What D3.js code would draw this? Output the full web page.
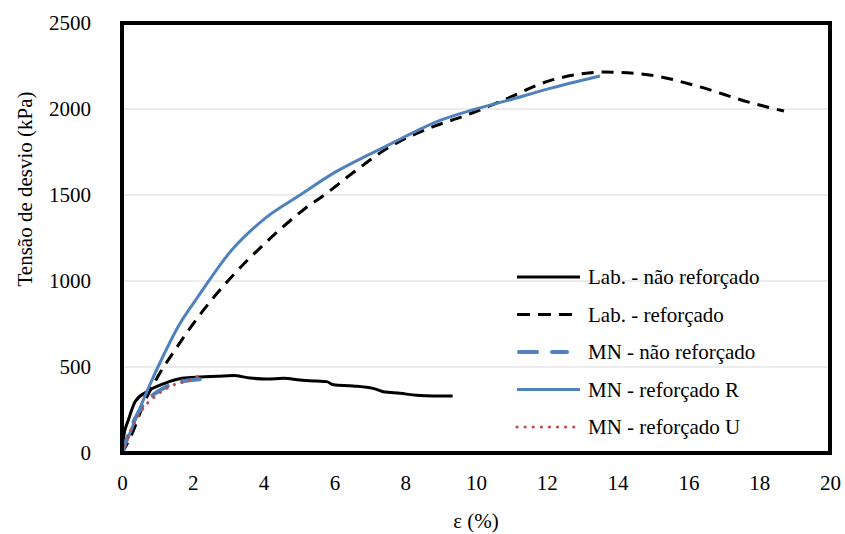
<!DOCTYPE html>
<html>
<head>
<meta charset="utf-8">
<script src="https://cdn.jsdelivr.net/npm/d3@7"></script>
<style>
  html, body { margin: 0; padding: 0; background: #fff; }
  svg { display: block; }
  svg text { font-family: 'Liberation Serif', serif !important; }
</style>
</head>
<body>
<svg id="chart" width="845" height="534"></svg>
<script>
// Strain (%) vs deviator stress (kPa) for each test series
const labUnreinforced = [
  [0, 0], [0.05, 100], [0.18, 192], [0.37, 298], [0.7, 356], [1.21, 405], [1.69, 434],
  [2.2, 442], [2.7, 446], [3.14, 450], [3.62, 436], [4.09, 430], [4.56, 434], [5.03, 424],
  [5.5, 418], [5.78, 415], [5.97, 397], [6.53, 390], [7.19, 370], [7.38, 356], [7.85, 347],
  [8.32, 336], [8.79, 332], [9.34, 332]
];
const labReinforced = [
  [0, 0], [0.3, 120], [0.6, 280], [1.0, 440], [1.5, 600], [2.16, 793], [3.1, 1025],
  [4.04, 1219], [5.12, 1413], [5.78, 1510], [6.44, 1616], [7.57, 1781], [8.79, 1897],
  [9.74, 1965], [10.68, 2043], [12.09, 2165], [13.0, 2205], [13.6, 2215], [14.9, 2198],
  [16.3, 2130], [17.7, 2040], [18.7, 1988]
];
const mnUnreinforced = [
  [0, 0], [0.1, 60], [0.3, 170], [0.6, 280], [1.0, 355], [1.5, 405], [2.0, 425], [2.25, 430]
];
const mnReinforcedR = [
  [0, 0], [0.35, 180], [0.7, 356], [1.2, 580], [1.6, 740], [2.15, 910], [3.1, 1180],
  [4.05, 1366], [5.03, 1500], [6.0, 1630], [6.86, 1723], [7.38, 1775], [8.0, 1840],
  [9.0, 1935], [9.74, 1985], [10.9, 2050], [12.09, 2120], [13.5, 2192]
];
const mnReinforcedU = [
  [0, 0], [0.08, 47], [0.32, 163], [0.6, 260], [0.98, 337], [1.45, 395], [1.97, 428], [2.2, 453]
];

const xTicks = [0, 2, 4, 6, 8, 10, 12, 14, 16, 18, 20];
const yTicks = [0, 500, 1000, 1500, 2000, 2500];

const seriesNames = [
  "Lab. - não reforçado",
  "Lab. - reforçado",
  "MN - não reforçado",
  "MN - reforçado R",
  "MN - reforçado U"
];

const styles = [
  { color: "#000000", width: 3, dash: null, cap: "butt" },
  { color: "#000000", width: 3, dash: "12,8", cap: "butt" },
  { color: "#4F81BD", width: 4, dash: "18,15", cap: "round" },
  { color: "#4F81BD", width: 3, dash: null, cap: "butt" },
  { color: "#C0504D", width: 3.2, dash: "0.1,8", cap: "round" }
];
const seriesData = [labUnreinforced, labReinforced, mnUnreinforced, mnReinforcedR, mnReinforcedU];

const FONT = "'Liberation Serif'";
// apply the serif face to a text selection
function serif(sel) {
  sel.attr("font-family", "Liberation Serif")
    .style("font-family", FONT, "important")
    .style("font-size", "21px")
    .attr("fill", "#000");
}

const svg = d3.select("#chart");
const plotLeft = 122, plotRight = 830, plotTop = 23, plotBottom = 453;

const x = d3.scaleLinear().domain([0, 20]).range([plotLeft, plotRight]);
const y = d3.scaleLinear().domain([0, 2500]).range([plotBottom, plotTop]);

// horizontal gridlines
svg.append("g")
  .selectAll("line")
  .data(yTicks.filter(t => t > 0 && t < 2500))
  .join("line")
  .attr("x1", plotLeft).attr("x2", plotRight)
  .attr("y1", d => y(d)).attr("y2", d => y(d))
  .attr("stroke", "#d9d9d9").attr("stroke-width", 1.2);

// axes (labels only, the frame is drawn separately)
const xAxis = svg.append("g")
  .attr("transform", `translate(0,${plotBottom})`)
  .call(d3.axisBottom(x).tickValues(xTicks).tickSize(0).tickPadding(22).tickFormat(d3.format("d")));
xAxis.attr("font-family", "Liberation Serif").attr("font-size", null);
xAxis.select(".domain").remove();
xAxis.selectAll("text").call(serif);

const yAxis = svg.append("g")
  .attr("transform", `translate(${plotLeft},0)`)
  .call(d3.axisLeft(y).tickValues(yTicks).tickSize(0).tickPadding(31).tickFormat(d3.format("d")));
yAxis.attr("font-family", "Liberation Serif").attr("font-size", null);
yAxis.select(".domain").remove();
yAxis.selectAll("text").call(serif);

// series curves
const line = d3.line().x(d => x(d[0])).y(d => y(d[1])).curve(d3.curveMonotoneX);
const drawOrder = [0, 1, 3, 2, 4];
drawOrder.forEach(i => {
  const s = styles[i];
  svg.append("path")
    .datum(seriesData[i])
    .attr("d", line)
    .attr("fill", "none")
    .attr("stroke", s.color)
    .attr("stroke-width", s.width)
    .attr("stroke-dasharray", s.dash)
    .attr("stroke-linecap", s.cap)
    .attr("stroke-linejoin", "round");
});

// plot frame
svg.append("rect")
  .attr("x", plotLeft).attr("y", plotTop)
  .attr("width", plotRight - plotLeft).attr("height", plotBottom - plotTop)
  .attr("fill", "none").attr("stroke", "#000").attr("stroke-width", 4);

// legend
const legend = svg.append("g");
const legendY0 = 277, legendStep = 37.5;
seriesNames.forEach((name, i) => {
  const s = styles[i];
  const ly = legendY0 + i * legendStep;
  const x1 = i === 2 ? 519 : 517, x2 = i === 2 ? 567 : 580;
  legend.append("line")
    .attr("x1", x1).attr("x2", x2)
    .attr("y1", ly).attr("y2", ly)
    .attr("stroke", s.color)
    .attr("stroke-width", s.width)
    .attr("stroke-dasharray", i === 1 ? "13,8" : s.dash)
    .attr("stroke-linecap", s.cap);
  legend.append("text")
    .attr("x", 588).attr("y", ly)
    .attr("dy", "0.35em")
    .call(serif)
    .text(name);
});

// axis titles
svg.append("text")
  .attr("x", 476).attr("y", 521)
  .attr("text-anchor", "middle").attr("dy", "0.35em")
  .call(serif)
  .text("ε (%)");

svg.append("text")
  .attr("transform", "translate(25,189) rotate(-90)")
  .attr("text-anchor", "middle").attr("dy", "0.35em")
  .call(serif)
  .text("Tensão de desvio (kPa)");
</script>
</body>
</html>
